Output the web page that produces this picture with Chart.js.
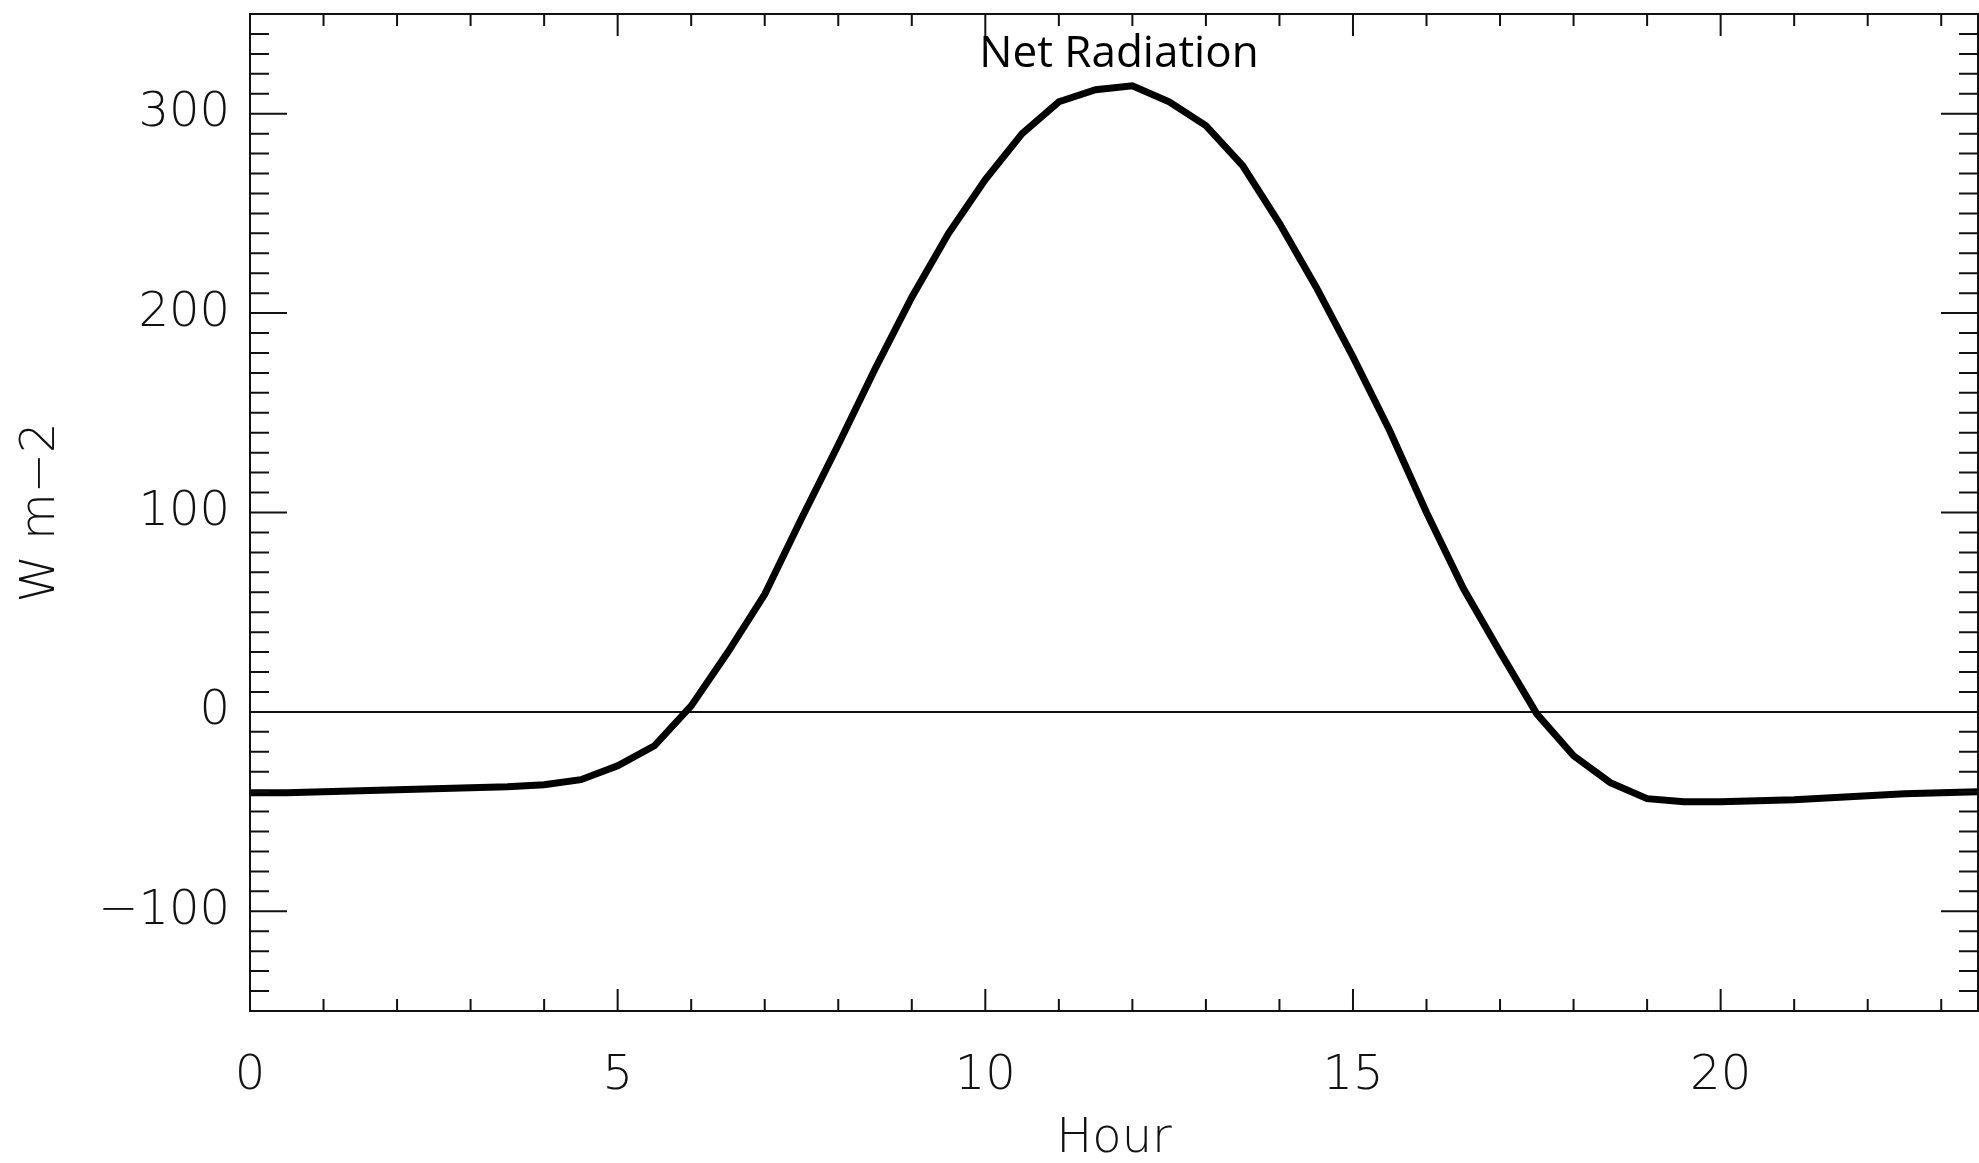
<!DOCTYPE html>
<html>
<head>
<meta charset="utf-8">
<title>Net Radiation</title>
<script src="https://cdn.jsdelivr.net/npm/chart.js@4.4.1/dist/chart.umd.min.js"></script>
<style>
  html, body { margin: 0; padding: 0; background: #fff; }
  #chart { display: block; }
</style>
</head>
<body>
<canvas id="chart" width="1979" height="1163"></canvas>
<script>
// half-hourly diurnal cycle
var hours = [0, 0.5, 1, 1.5, 2, 2.5, 3, 3.5, 4, 4.5, 5, 5.5,
             6, 6.5, 7, 7.5, 8, 8.5, 9, 9.5, 10, 10.5, 11, 11.5,
             12, 12.5, 13, 13.5, 14, 14.5, 15, 15.5, 16, 16.5, 17, 17.5,
             18, 18.5, 19, 19.5, 20, 20.5, 21, 21.5, 22, 22.5, 23, 23.5];
var netRadiation = [-40.5, -40.5, -40, -39.5, -39, -38.5, -38, -37.5, -36.5, -34, -27, -17,
                    3, 30, 59, 97, 134, 172, 208, 240, 267, 290, 306, 312,
                    314, 306, 294, 274, 245, 213, 178, 141, 100, 62, 30, -1,
                    -22, -35.5, -43.5, -45, -45, -44.5, -44, -43, -42, -41, -40.5, -40];
var xTickLabels = [0, 5, 10, 15, 20];
var yTickLabels = [-100, 0, 100, 200, 300];

var axisFont = { family: "'DejaVu Sans', sans-serif", size: 48, weight: '200' };
var ink = '#111';

// IDL style frame: box on all sides with inward major and minor ticks
var frameTicks = {
  id: 'frameTicks',
  afterDraw: function(chart) {
    var ctx = chart.ctx, a = chart.chartArea;
    var xs = chart.scales.x, ys = chart.scales.y;
    ctx.save();
    ctx.strokeStyle = ink;
    ctx.lineWidth = 2;
    ctx.beginPath();
    ctx.rect(a.left, a.top, a.right - a.left, a.bottom - a.top);
    ctx.stroke();
    ctx.beginPath();
    for (var v = ys.min; v <= ys.max; v += 10) {
      var py = ys.getPixelForValue(v);
      var len = (v % 100 === 0) ? 37 : 19;
      ctx.moveTo(a.left, py); ctx.lineTo(a.left + len, py);
      ctx.moveTo(a.right, py); ctx.lineTo(a.right - len, py);
    }
    for (var h = 0; h <= xs.max; h += 1) {
      var px = xs.getPixelForValue(h);
      var l2 = (h % 5 === 0) ? 22 : 12;
      ctx.moveTo(px, a.bottom); ctx.lineTo(px, a.bottom - l2);
      ctx.moveTo(px, a.top); ctx.lineTo(px, a.top + l2);
    }
    ctx.stroke();
    // title sits inside the plot box
    ctx.fillStyle = '#000';
    ctx.font = "44px 'Open Sans', sans-serif";
    ctx.textAlign = 'center';
    ctx.textBaseline = 'alphabetic';
    ctx.fillText('Net Radiation', 1119, 67);
    ctx.restore();
  }
};

var ctx = document.getElementById('chart').getContext('2d');
var chart = new Chart(ctx, {
  type: 'line',
  data: {
    datasets: [{
      data: hours.map(function(h, i) { return { x: h, y: netRadiation[i] }; }),
      borderColor: '#000',
      borderWidth: 7,
      pointRadius: 0,
      tension: 0,
      fill: false
    }]
  },
  options: {
    responsive: false,
    animation: false,
    devicePixelRatio: 1,
    layout: { padding: { left: 0, top: 14, right: 1, bottom: 0 } },
    plugins: { legend: { display: false }, tooltip: { enabled: false }, title: { display: false } },
    scales: {
      x: {
        type: 'linear',
        min: 0,
        max: 23.5,
        afterFit: function(s) { s.height = 152; s.paddingLeft = 0; s.paddingRight = 0; },
        grid: { display: false, drawTicks: false },
        border: { display: false },
        ticks: {
          stepSize: 5,
          includeBounds: false,
          autoSkip: false,
          maxRotation: 0,
          padding: 37,
          color: ink,
          font: axisFont,
          callback: function(v) { return xTickLabels.indexOf(v) >= 0 ? String(v) : ''; }
        },
        title: { display: true, text: 'Hour', color: ink, font: axisFont, padding: { top: 0, bottom: -5 } }
      },
      y: {
        min: -150,
        max: 350,
        afterFit: function(s) { s.width = 250; s.paddingTop = 0; s.paddingBottom = 0; },
        grid: {
          drawTicks: false,
          lineWidth: 2,
          color: function(c) { return c.tick && c.tick.value === 0 ? ink : 'rgba(0,0,0,0)'; }
        },
        border: { display: false },
        ticks: {
          stepSize: 50,
          includeBounds: false,
          autoSkip: false,
          padding: 20,
          color: ink,
          font: axisFont,
          callback: function(v) {
            if (yTickLabels.indexOf(v) < 0) return '';
            return v < 0 ? '\u2212' + Math.abs(v) : String(v);
          }
        },
        title: { display: true, text: 'W m\u22122', color: ink, font: axisFont, padding: { top: 13, bottom: 0 } }
      }
    }
  },
  plugins: [frameTicks]
});
</script>
</body>
</html>
